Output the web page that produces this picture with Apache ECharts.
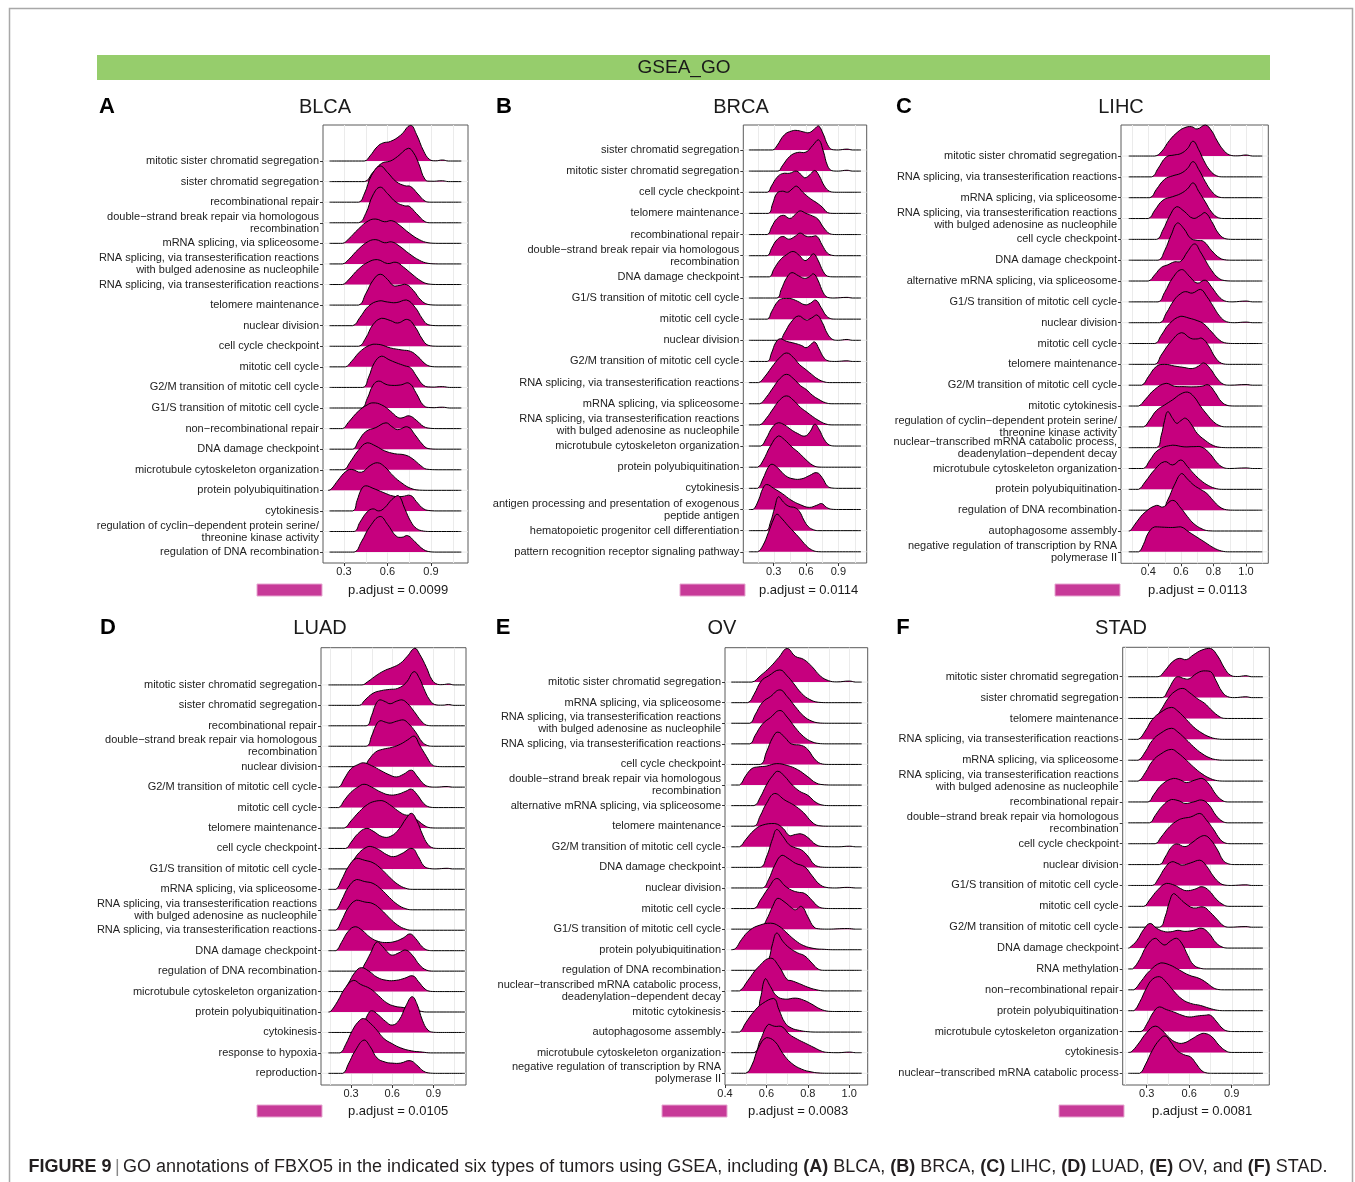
<!DOCTYPE html>
<html>
<head>
<meta charset="utf-8">
<script src="https://cdn.jsdelivr.net/npm/echarts@6/dist/echarts.min.js"></script>
<style>
  html, body { margin: 0; padding: 0; background: #fff; }
  #chart { width: 1355px; height: 1182px; }
</style>
</head>
<body>
<div id="chart"></div>
<script>
// ---- GSEA GO enrichment ridgelines for FBXO5 in six tumour types ----
// Each ridge is a list of [enrichment score, density height] knots; height is in row units.

const panelLetters = ['A', 'B', 'C', 'D', 'E', 'F'];
const cancerNames = ['BLCA', 'BRCA', 'LIHC', 'LUAD', 'OV', 'STAD'];
const pAdjustValues = [0.0099, 0.0114, 0.0113, 0.0105, 0.0083, 0.0081];

const ticksStep3 = [0.3, 0.6, 0.9];
const ticksStep2 = [0.4, 0.6, 0.8, 1.0];
const gridStep3 = [0.15, 0.3, 0.45, 0.6, 0.75, 0.9, 1.05];
const gridStep2 = [0.3, 0.4, 0.5, 0.6, 0.7, 0.8, 0.9, 1.0, 1.1];

const blcaTerms = [
  'mitotic sister chromatid segregation',
  'sister chromatid segregation',
  'recombinational repair',
  'double\u2212strand break repair via homologous\nrecombination',
  'mRNA splicing, via spliceosome',
  'RNA splicing, via transesterification reactions\nwith bulged adenosine as nucleophile',
  'RNA splicing, via transesterification reactions',
  'telomere maintenance',
  'nuclear division',
  'cell cycle checkpoint',
  'mitotic cell cycle',
  'G2/M transition of mitotic cell cycle',
  'G1/S transition of mitotic cell cycle',
  'non\u2212recombinational repair',
  'DNA damage checkpoint',
  'microtubule cytoskeleton organization',
  'protein polyubiquitination',
  'cytokinesis',
  'regulation of cyclin\u2212dependent protein serine/\nthreonine kinase activity',
  'regulation of DNA recombination'
];
const blcaDensity = [
  [[0.2,0],[0.44,0],[0.48,0.25],[0.53,0.7],[0.57,0.88],[0.62,0.95],[0.69,1.25],[0.76,1.73],[0.8,1.3],[0.85,0.48],[0.89,0.08],[0.93,0.01],[0.98,0.05],[1.02,0],[1.11,0]],
  [[0.2,0],[0.44,0],[0.5,0.45],[0.56,0.89],[0.62,1.0],[0.67,1.22],[0.745,1.62],[0.78,1.4],[0.815,0.89],[0.86,0.1],[0.9,0.02],[0.98,0.04],[1.02,0],[1.11,0]],
  [[0.2,0],[0.4,0],[0.44,0.4],[0.49,1.3],[0.55,1.76],[0.6,1.45],[0.66,1.0],[0.72,0.8],[0.76,0.76],[0.81,0.4],[0.86,0.05],[0.9,0],[1.11,0]],
  [[0.2,0],[0.4,0],[0.45,0.45],[0.5,1.35],[0.55,1.73],[0.6,1.42],[0.66,1.0],[0.72,0.82],[0.75,0.8],[0.8,0.45],[0.86,0.05],[0.9,0],[1.11,0]],
  [[0.2,0],[0.29,0],[0.33,0.2],[0.4,0.7],[0.47,1.1],[0.52,1.18],[0.58,1.05],[0.63,1.1],[0.68,0.9],[0.75,0.5],[0.82,0.18],[0.88,0.03],[0.95,0],[1.11,0]],
  [[0.2,0],[0.29,0],[0.33,0.2],[0.4,0.72],[0.47,1.1],[0.52,1.18],[0.58,1.03],[0.63,1.07],[0.68,0.88],[0.75,0.5],[0.82,0.18],[0.88,0.03],[0.95,0],[1.11,0]],
  [[0.2,0],[0.29,0],[0.33,0.22],[0.4,0.75],[0.47,1.1],[0.53,1.21],[0.6,1.02],[0.66,1.08],[0.71,0.85],[0.77,0.5],[0.83,0.18],[0.88,0.03],[0.95,0],[1.11,0]],
  [[0.2,0],[0.4,0],[0.45,0.55],[0.5,1.2],[0.55,1.5],[0.6,1.25],[0.64,0.95],[0.68,0.95],[0.73,1.0],[0.78,0.7],[0.83,0.25],[0.88,0.03],[0.95,0],[1.11,0]],
  [[0.2,0],[0.36,0],[0.41,0.4],[0.47,0.95],[0.54,1.2],[0.6,1.15],[0.66,1.12],[0.73,1.25],[0.79,0.9],[0.84,0.35],[0.88,0.05],[0.95,0],[1.11,0]],
  [[0.2,0],[0.4,0],[0.45,0.4],[0.5,1.05],[0.56,1.36],[0.62,1.25],[0.67,1.13],[0.74,1.3],[0.79,0.95],[0.84,0.35],[0.88,0.05],[0.95,0],[1.11,0]],
  [[0.2,0],[0.31,0],[0.35,0.25],[0.42,0.8],[0.5,1.1],[0.55,1.08],[0.62,0.92],[0.7,0.82],[0.76,0.75],[0.81,0.5],[0.86,0.15],[0.9,0.02],[0.95,0],[1.11,0]],
  [[0.2,0],[0.43,0],[0.47,0.5],[0.51,1.2],[0.56,1.52],[0.61,1.35],[0.66,1.2],[0.72,1.05],[0.76,0.95],[0.8,0.55],[0.85,0.1],[0.9,0.02],[0.98,0.04],[1.03,0],[1.11,0]],
  [[0.2,0],[0.42,0],[0.46,0.45],[0.5,1.1],[0.54,1.31],[0.59,1.15],[0.63,1.1],[0.69,1.12],[0.75,1.2],[0.8,0.7],[0.85,0.12],[0.9,0.02],[0.98,0.04],[1.03,0],[1.11,0]],
  [[0.2,0],[0.29,0],[0.33,0.3],[0.4,0.85],[0.46,1.15],[0.5,1.25],[0.56,1.15],[0.62,0.85],[0.67,0.55],[0.7,0.52],[0.75,0.62],[0.8,0.4],[0.85,0.1],[0.9,0.01],[0.95,0],[1.11,0]],
  [[0.2,0],[0.36,0],[0.4,0.4],[0.45,0.85],[0.52,1.05],[0.59,1.28],[0.63,1.1],[0.67,0.95],[0.74,1.08],[0.79,0.7],[0.84,0.25],[0.88,0.03],[0.95,0],[1.11,0]],
  [[0.2,0],[0.3,0],[0.34,0.35],[0.4,0.95],[0.46,1.31],[0.52,1.15],[0.58,0.92],[0.65,0.78],[0.72,0.72],[0.77,0.55],[0.83,0.2],[0.87,0.03],[0.95,0],[1.11,0]],
  [[0.19,0],[0.21,0.05],[0.26,0.5],[0.31,0.9],[0.35,1.02],[0.42,0.88],[0.48,1.2],[0.53,1.34],[0.58,1.15],[0.64,0.7],[0.7,0.35],[0.76,0.1],[0.82,0.01],[0.9,0],[1.11,0]],
  [[0.2,0],[0.36,0],[0.39,0.5],[0.42,1.05],[0.45,1.22],[0.5,1.1],[0.57,0.9],[0.64,0.72],[0.7,0.7],[0.76,0.75],[0.8,0.45],[0.85,0.1],[0.9,0.01],[0.95,0],[1.11,0]],
  [[0.2,0],[0.37,0],[0.41,0.45],[0.46,0.95],[0.5,1.1],[0.54,1.0],[0.58,1.15],[0.63,1.55],[0.675,1.75],[0.72,1.1],[0.76,0.5],[0.8,0.15],[0.85,0.02],[0.9,0],[1.11,0]],
  [[0.2,0],[0.37,0],[0.42,0.5],[0.48,1.25],[0.55,1.73],[0.6,1.35],[0.66,0.78],[0.7,0.72],[0.74,0.8],[0.79,0.5],[0.85,0.12],[0.9,0.01],[0.95,0],[1.11,0]]
];

const brcaTerms = [
  'sister chromatid segregation',
  'mitotic sister chromatid segregation',
  'cell cycle checkpoint',
  'telomere maintenance',
  'recombinational repair',
  'double\u2212strand break repair via homologous\nrecombination',
  'DNA damage checkpoint',
  'G1/S transition of mitotic cell cycle',
  'mitotic cell cycle',
  'nuclear division',
  'G2/M transition of mitotic cell cycle',
  'RNA splicing, via transesterification reactions',
  'mRNA splicing, via spliceosome',
  'RNA splicing, via transesterification reactions\nwith bulged adenosine as nucleophile',
  'microtubule cytoskeleton organization',
  'protein polyubiquitination',
  'cytokinesis',
  'antigen processing and presentation of exogenous\npeptide antigen',
  'hematopoietic progenitor cell differentiation',
  'pattern recognition receptor signaling pathway'
];
const brcaDensity = [
  [[0.07,0],[0.29,0],[0.33,0.2],[0.4,0.72],[0.47,0.9],[0.52,0.92],[0.58,0.85],[0.63,0.82],[0.68,1.0],[0.715,1.14],[0.76,0.75],[0.8,0.25],[0.84,0.02],[0.9,0],[0.98,0.04],[1.03,0],[1.11,0]],
  [[0.07,0],[0.34,0],[0.38,0.25],[0.45,0.7],[0.52,0.88],[0.6,0.9],[0.66,1.2],[0.715,1.48],[0.76,0.95],[0.8,0.25],[0.84,0.02],[0.9,0],[0.98,0.04],[1.03,0],[1.11,0]],
  [[0.07,0],[0.24,0],[0.28,0.3],[0.33,0.7],[0.38,0.88],[0.45,0.9],[0.51,1.0],[0.56,0.8],[0.59,0.68],[0.64,0.85],[0.68,1.03],[0.72,0.8],[0.77,0.3],[0.82,0.04],[0.88,0],[1.11,0]],
  [[0.07,0],[0.25,0],[0.29,0.45],[0.33,0.95],[0.38,1.05],[0.43,1.0],[0.47,1.15],[0.51,1.29],[0.57,1.0],[0.64,0.7],[0.7,0.5],[0.75,0.3],[0.8,0.04],[0.86,0],[1.11,0]],
  [[0.07,0],[0.24,0],[0.28,0.35],[0.33,0.75],[0.39,0.91],[0.45,0.76],[0.5,0.95],[0.545,1.12],[0.6,1.0],[0.66,0.88],[0.71,0.73],[0.76,0.35],[0.82,0.04],[0.88,0],[1.11,0]],
  [[0.07,0],[0.24,0],[0.28,0.35],[0.33,0.75],[0.385,0.91],[0.44,0.78],[0.5,0.92],[0.545,1.07],[0.6,0.92],[0.65,0.9],[0.7,0.92],[0.75,0.5],[0.8,0.12],[0.85,0.01],[0.9,0],[1.11,0]],
  [[0.07,0],[0.26,0],[0.3,0.35],[0.36,0.8],[0.42,1.05],[0.48,1.2],[0.54,1.0],[0.59,0.77],[0.63,0.9],[0.67,1.09],[0.71,0.8],[0.76,0.25],[0.8,0.03],[0.86,0],[1.11,0]],
  [[0.07,0],[0.33,0],[0.37,0.4],[0.42,0.95],[0.47,1.2],[0.53,1.05],[0.585,0.93],[0.63,1.0],[0.67,1.14],[0.71,0.85],[0.76,0.25],[0.8,0.03],[0.86,0],[0.98,0.03],[1.03,0],[1.11,0]],
  [[0.07,0],[0.24,0],[0.28,0.35],[0.34,0.85],[0.39,0.98],[0.45,0.98],[0.52,0.85],[0.59,0.68],[0.64,0.75],[0.69,0.9],[0.74,0.55],[0.79,0.15],[0.84,0.01],[0.9,0],[1.11,0]],
  [[0.07,0],[0.35,0],[0.4,0.35],[0.46,0.85],[0.53,1.15],[0.6,0.96],[0.65,1.05],[0.7,1.2],[0.75,0.85],[0.8,0.3],[0.85,0.03],[0.9,0],[0.98,0.04],[1.03,0],[1.11,0]],
  [[0.07,0],[0.24,0],[0.28,0.4],[0.32,0.9],[0.36,1.07],[0.42,0.95],[0.5,0.85],[0.56,0.75],[0.6,0.65],[0.64,0.78],[0.68,0.92],[0.72,0.6],[0.77,0.15],[0.82,0.01],[0.88,0],[0.98,0.03],[1.03,0],[1.11,0]],
  [[0.07,0],[0.16,0],[0.22,0.3],[0.3,0.85],[0.36,1.2],[0.42,1.4],[0.48,1.2],[0.54,0.85],[0.59,0.65],[0.65,0.4],[0.7,0.2],[0.76,0.05],[0.82,0],[1.11,0]],
  [[0.07,0],[0.17,0],[0.23,0.3],[0.3,0.8],[0.36,1.2],[0.42,1.39],[0.48,1.2],[0.55,0.85],[0.6,0.68],[0.66,0.4],[0.72,0.2],[0.78,0.05],[0.84,0],[1.11,0]],
  [[0.07,0],[0.17,0],[0.23,0.3],[0.3,0.8],[0.36,1.2],[0.42,1.37],[0.48,1.18],[0.55,0.82],[0.6,0.63],[0.66,0.4],[0.72,0.2],[0.78,0.05],[0.84,0],[1.11,0]],
  [[0.07,0],[0.18,0],[0.23,0.35],[0.29,0.9],[0.345,1.1],[0.4,1.0],[0.46,0.78],[0.52,0.6],[0.59,0.47],[0.64,0.7],[0.68,1.03],[0.72,0.8],[0.77,0.3],[0.82,0.04],[0.88,0],[1.11,0]],
  [[0.07,0],[0.15,0],[0.2,0.3],[0.27,1.0],[0.345,1.48],[0.4,1.3],[0.47,0.95],[0.53,0.7],[0.6,0.35],[0.66,0.1],[0.71,0.01],[0.78,0],[1.11,0]],
  [[0.07,0],[0.15,0],[0.2,0.45],[0.25,1.0],[0.285,1.14],[0.34,0.95],[0.41,0.6],[0.48,0.45],[0.56,0.45],[0.63,0.6],[0.7,0.74],[0.75,0.5],[0.8,0.1],[0.85,0.01],[0.9,0],[1.11,0]],
  [[0.07,0],[0.11,0],[0.16,0.45],[0.2,1.0],[0.235,1.18],[0.3,1.0],[0.38,0.75],[0.46,0.45],[0.55,0.22],[0.63,0.1],[0.7,0.2],[0.745,0.28],[0.79,0.1],[0.84,0.01],[0.9,0],[1.11,0]],
  [[0.07,0],[0.23,0],[0.27,0.4],[0.31,1.1],[0.345,1.61],[0.39,1.35],[0.44,1.15],[0.5,1.08],[0.54,0.9],[0.58,0.5],[0.62,0.2],[0.67,0.04],[0.72,0],[1.11,0]],
  [[0.07,0],[0.15,0],[0.2,0.3],[0.25,0.9],[0.3,1.55],[0.33,1.78],[0.37,1.6],[0.43,1.25],[0.48,0.98],[0.54,0.65],[0.6,0.3],[0.65,0.1],[0.7,0.01],[0.76,0],[1.11,0]]
];

const lihcTerms = [
  'mitotic sister chromatid segregation',
  'RNA splicing, via transesterification reactions',
  'mRNA splicing, via spliceosome',
  'RNA splicing, via transesterification reactions\nwith bulged adenosine as nucleophile',
  'cell cycle checkpoint',
  'DNA damage checkpoint',
  'alternative mRNA splicing, via spliceosome',
  'G1/S transition of mitotic cell cycle',
  'nuclear division',
  'mitotic cell cycle',
  'telomere maintenance',
  'G2/M transition of mitotic cell cycle',
  'mitotic cytokinesis',
  'regulation of cyclin\u2212dependent protein serine/\nthreonine kinase activity',
  'nuclear\u2212transcribed mRNA catabolic process,\ndeadenylation\u2212dependent decay',
  'microtubule cytoskeleton organization',
  'protein polyubiquitination',
  'regulation of DNA recombination',
  'autophagosome assembly',
  'negative regulation of transcription by RNA\npolymerase II'
];
const lihcDensity = [
  [[0.28,0],[0.44,0],[0.48,0.2],[0.53,0.75],[0.58,1.15],[0.62,1.35],[0.665,1.41],[0.7,1.3],[0.75,1.49],[0.79,1.2],[0.82,0.77],[0.86,0.3],[0.9,0.05],[0.95,0.01],[1.0,0.05],[1.04,0],[1.1,0]],
  [[0.28,0],[0.42,0],[0.46,0.4],[0.51,0.95],[0.56,1.05],[0.6,1.12],[0.64,1.35],[0.675,1.71],[0.71,1.3],[0.74,0.8],[0.78,0.3],[0.82,0.05],[0.86,0],[1.1,0]],
  [[0.28,0],[0.41,0],[0.45,0.4],[0.5,0.88],[0.55,1.05],[0.6,1.17],[0.64,1.4],[0.675,1.73],[0.71,1.35],[0.75,0.77],[0.79,0.3],[0.83,0.04],[0.87,0],[1.1,0]],
  [[0.28,0],[0.4,0],[0.44,0.4],[0.49,0.88],[0.55,1.05],[0.6,1.2],[0.64,1.42],[0.675,1.71],[0.71,1.3],[0.75,0.8],[0.79,0.3],[0.83,0.04],[0.87,0],[1.1,0]],
  [[0.28,0],[0.45,0],[0.49,0.45],[0.53,1.1],[0.575,1.57],[0.62,1.35],[0.675,1.01],[0.72,1.15],[0.75,1.28],[0.79,0.85],[0.83,0.3],[0.87,0.04],[0.92,0],[1.1,0]],
  [[0.28,0],[0.46,0],[0.5,0.45],[0.54,1.2],[0.58,1.79],[0.62,1.5],[0.66,1.05],[0.7,0.95],[0.74,0.9],[0.79,0.45],[0.84,0.1],[0.88,0.01],[0.92,0],[1.1,0]],
  [[0.28,0],[0.4,0],[0.44,0.3],[0.48,0.65],[0.52,0.78],[0.56,0.92],[0.6,0.95],[0.64,1.4],[0.685,1.78],[0.72,1.4],[0.75,1.0],[0.79,0.5],[0.83,0.15],[0.87,0.02],[0.92,0],[1.1,0]],
  [[0.28,0],[0.46,0],[0.5,0.45],[0.55,1.15],[0.605,1.55],[0.65,1.25],[0.7,0.9],[0.75,1.04],[0.79,0.7],[0.84,0.2],[0.88,0.02],[0.92,0],[1.0,0.04],[1.04,0],[1.1,0]],
  [[0.28,0],[0.47,0],[0.51,0.45],[0.56,1.1],[0.6,1.4],[0.63,1.49],[0.67,1.42],[0.72,1.6],[0.76,1.25],[0.8,0.77],[0.84,0.3],[0.88,0.05],[0.93,0],[1.0,0.03],[1.04,0],[1.1,0]],
  [[0.28,0],[0.44,0],[0.48,0.4],[0.53,0.95],[0.6,1.31],[0.65,1.22],[0.7,1.1],[0.74,0.95],[0.79,0.55],[0.84,0.15],[0.88,0.02],[0.93,0],[1.1,0]],
  [[0.28,0],[0.44,0],[0.48,0.45],[0.54,1.1],[0.605,1.52],[0.66,1.25],[0.7,1.22],[0.73,1.25],[0.77,0.9],[0.81,0.35],[0.85,0.05],[0.9,0],[1.1,0]],
  [[0.28,0],[0.36,0],[0.4,0.4],[0.45,0.9],[0.5,1.0],[0.56,0.92],[0.62,0.85],[0.67,0.8],[0.71,0.92],[0.74,1.07],[0.78,0.8],[0.82,0.35],[0.86,0.05],[0.9,0],[1.0,0.03],[1.04,0],[1.1,0]],
  [[0.28,0],[0.34,0],[0.38,0.3],[0.44,0.8],[0.51,1.09],[0.56,0.95],[0.62,0.93],[0.68,0.92],[0.73,0.95],[0.77,1.01],[0.81,0.65],[0.85,0.2],[0.89,0.02],[0.93,0],[1.1,0]],
  [[0.28,0],[0.37,0],[0.41,0.35],[0.45,0.78],[0.5,1.05],[0.55,1.3],[0.6,1.58],[0.64,1.67],[0.68,1.45],[0.72,1.0],[0.76,0.6],[0.8,0.25],[0.84,0.05],[0.88,0],[1.1,0]],
  [[0.28,0],[0.45,0],[0.48,0.6],[0.5,1.3],[0.52,1.73],[0.55,1.4],[0.575,1.17],[0.6,1.3],[0.63,1.41],[0.67,1.05],[0.7,0.69],[0.75,0.35],[0.8,0.1],[0.85,0.01],[0.9,0],[1.1,0]],
  [[0.28,0],[0.37,0],[0.41,0.4],[0.46,0.88],[0.55,1.12],[0.62,1.04],[0.68,1.05],[0.73,1.02],[0.78,0.7],[0.82,0.3],[0.86,0.05],[0.9,0],[1.0,0.03],[1.04,0],[1.1,0]],
  [[0.28,0],[0.34,0],[0.38,0.35],[0.44,0.95],[0.5,1.33],[0.55,1.17],[0.6,1.41],[0.64,1.1],[0.68,0.75],[0.72,0.45],[0.77,0.18],[0.82,0.03],[0.86,0],[1.1,0]],
  [[0.28,0],[0.48,0],[0.52,0.5],[0.56,1.2],[0.605,1.76],[0.64,1.5],[0.68,1.2],[0.72,1.0],[0.76,0.8],[0.8,0.45],[0.84,0.15],[0.88,0.02],[0.93,0],[1.1,0]],
  [[0.28,0],[0.29,0.02],[0.33,0.45],[0.38,0.9],[0.45,1.23],[0.49,1.15],[0.55,1.47],[0.6,1.1],[0.64,0.7],[0.68,0.35],[0.73,0.1],[0.77,0.01],[0.82,0],[1.1,0]],
  [[0.28,0],[0.34,0],[0.37,0.35],[0.4,0.9],[0.44,1.2],[0.5,1.18],[0.55,1.17],[0.6,1.2],[0.65,0.95],[0.7,0.7],[0.75,0.45],[0.8,0.2],[0.85,0.04],[0.9,0],[1.1,0]]
];

const luadTerms = [
  'mitotic sister chromatid segregation',
  'sister chromatid segregation',
  'recombinational repair',
  'double\u2212strand break repair via homologous\nrecombination',
  'nuclear division',
  'G2/M transition of mitotic cell cycle',
  'mitotic cell cycle',
  'telomere maintenance',
  'cell cycle checkpoint',
  'G1/S transition of mitotic cell cycle',
  'mRNA splicing, via spliceosome',
  'RNA splicing, via transesterification reactions\nwith bulged adenosine as nucleophile',
  'RNA splicing, via transesterification reactions',
  'DNA damage checkpoint',
  'regulation of DNA recombination',
  'microtubule cytoskeleton organization',
  'protein polyubiquitination',
  'cytokinesis',
  'response to hypoxia',
  'reproduction'
];
const luadDensity = [
  [[0.135,0],[0.38,0],[0.42,0.15],[0.49,0.49],[0.55,0.72],[0.6,0.85],[0.66,1.06],[0.71,1.4],[0.765,1.79],[0.8,1.5],[0.85,0.85],[0.89,0.25],[0.93,0.03],[0.98,0.02],[1.01,0.05],[1.05,0],[1.13,0]],
  [[0.135,0],[0.36,0],[0.4,0.25],[0.46,0.59],[0.52,0.72],[0.58,0.78],[0.64,0.83],[0.7,1.1],[0.76,1.65],[0.8,1.3],[0.83,0.83],[0.87,0.3],[0.91,0.04],[0.97,0.01],[1.01,0.04],[1.05,0],[1.13,0]],
  [[0.135,0],[0.41,0],[0.45,0.5],[0.48,1.05],[0.51,1.27],[0.55,1.18],[0.585,1.08],[0.63,1.2],[0.67,1.27],[0.71,1.1],[0.76,0.7],[0.81,0.25],[0.85,0.03],[0.9,0],[1.13,0]],
  [[0.135,0],[0.41,0],[0.45,0.5],[0.48,1.0],[0.51,1.24],[0.55,1.18],[0.585,1.13],[0.63,1.22],[0.68,1.29],[0.72,1.1],[0.77,0.7],[0.82,0.2],[0.86,0.03],[0.9,0],[1.13,0]],
  [[0.135,0],[0.39,0],[0.43,0.35],[0.48,0.72],[0.53,0.85],[0.6,0.95],[0.66,1.1],[0.71,1.3],[0.76,1.5],[0.8,1.05],[0.85,0.5],[0.89,0.1],[0.93,0.01],[0.98,0],[1.13,0]],
  [[0.135,0],[0.21,0],[0.25,0.4],[0.3,0.9],[0.35,1.1],[0.39,1.19],[0.45,1.05],[0.52,0.8],[0.58,0.6],[0.63,0.5],[0.68,0.62],[0.74,0.83],[0.78,0.55],[0.83,0.15],[0.87,0.02],[0.92,0],[1.0,0.03],[1.04,0],[1.13,0]],
  [[0.135,0],[0.21,0],[0.25,0.35],[0.3,0.75],[0.35,1.0],[0.395,1.14],[0.45,1.0],[0.52,0.75],[0.58,0.62],[0.64,0.65],[0.7,0.8],[0.74,0.9],[0.78,0.65],[0.83,0.2],[0.87,0.03],[0.92,0],[1.13,0]],
  [[0.135,0],[0.25,0],[0.3,0.35],[0.36,0.8],[0.42,1.15],[0.47,1.3],[0.525,1.34],[0.58,1.15],[0.64,0.85],[0.69,0.65],[0.74,0.6],[0.79,0.35],[0.84,0.1],[0.88,0.01],[0.93,0],[1.13,0]],
  [[0.135,0],[0.26,0],[0.3,0.3],[0.35,0.72],[0.41,0.98],[0.46,0.85],[0.53,0.57],[0.59,0.6],[0.65,0.95],[0.7,1.45],[0.74,1.72],[0.78,1.35],[0.82,0.7],[0.86,0.2],[0.9,0.02],[0.95,0],[1.13,0]],
  [[0.135,0],[0.27,0],[0.31,0.35],[0.36,0.8],[0.41,1.05],[0.44,1.1],[0.5,0.95],[0.56,0.7],[0.61,0.6],[0.67,0.75],[0.745,1.0],[0.79,0.6],[0.83,0.15],[0.87,0.02],[0.92,0],[1.0,0.03],[1.04,0],[1.13,0]],
  [[0.135,0],[0.19,0],[0.23,0.45],[0.28,1.1],[0.34,1.52],[0.4,1.42],[0.46,1.3],[0.52,1.0],[0.58,0.6],[0.64,0.25],[0.7,0.05],[0.75,0],[1.13,0]],
  [[0.135,0],[0.19,0],[0.23,0.45],[0.28,1.1],[0.34,1.48],[0.4,1.38],[0.46,1.29],[0.52,1.0],[0.58,0.6],[0.64,0.25],[0.7,0.05],[0.75,0],[1.13,0]],
  [[0.135,0],[0.19,0],[0.23,0.45],[0.28,1.1],[0.34,1.47],[0.4,1.38],[0.46,1.3],[0.52,1.0],[0.58,0.6],[0.64,0.25],[0.7,0.05],[0.75,0],[1.13,0]],
  [[0.135,0],[0.19,0],[0.23,0.4],[0.28,0.95],[0.33,1.17],[0.38,1.0],[0.44,0.65],[0.5,0.45],[0.56,0.4],[0.62,0.45],[0.68,0.62],[0.73,0.82],[0.77,0.6],[0.82,0.18],[0.86,0.02],[0.9,0],[1.13,0]],
  [[0.135,0],[0.36,0],[0.4,0.35],[0.44,0.85],[0.49,1.44],[0.53,1.2],[0.57,0.9],[0.6,0.78],[0.65,0.9],[0.7,1.03],[0.75,0.75],[0.8,0.3],[0.85,0.05],[0.9,0],[1.13,0]],
  [[0.135,0],[0.24,0],[0.28,0.4],[0.33,0.95],[0.375,1.17],[0.43,1.0],[0.49,0.7],[0.56,0.55],[0.63,0.55],[0.69,0.65],[0.75,0.77],[0.79,0.5],[0.84,0.12],[0.88,0.01],[0.93,0],[1.13,0]],
  [[0.135,0],[0.15,0.02],[0.2,0.5],[0.26,1.2],[0.32,1.55],[0.37,1.35],[0.44,1.14],[0.5,0.8],[0.56,0.45],[0.62,0.28],[0.68,0.22],[0.74,0.15],[0.8,0.05],[0.85,0],[1.13,0]],
  [[0.135,0],[0.36,0],[0.39,0.35],[0.42,0.85],[0.45,1.06],[0.5,0.85],[0.55,0.55],[0.6,0.36],[0.65,0.6],[0.7,1.3],[0.745,1.75],[0.78,1.4],[0.82,0.6],[0.86,0.12],[0.9,0.01],[0.95,0],[1.13,0]],
  [[0.135,0],[0.22,0],[0.26,0.4],[0.31,1.1],[0.35,1.5],[0.39,1.68],[0.44,1.45],[0.49,1.1],[0.54,0.7],[0.6,0.45],[0.66,0.25],[0.74,0.1],[0.82,0.04],[0.88,0],[1.13,0]],
  [[0.135,0],[0.24,0],[0.28,0.45],[0.33,1.1],[0.395,1.63],[0.44,1.3],[0.49,0.75],[0.55,0.55],[0.6,0.5],[0.66,0.5],[0.73,0.62],[0.78,0.4],[0.83,0.1],[0.88,0.01],[0.93,0],[1.13,0]]
];

const ovTerms = [
  'mitotic sister chromatid segregation',
  'mRNA splicing, via spliceosome',
  'RNA splicing, via transesterification reactions\nwith bulged adenosine as nucleophile',
  'RNA splicing, via transesterification reactions',
  'cell cycle checkpoint',
  'double\u2212strand break repair via homologous\nrecombination',
  'alternative mRNA splicing, via spliceosome',
  'telomere maintenance',
  'G2/M transition of mitotic cell cycle',
  'DNA damage checkpoint',
  'nuclear division',
  'mitotic cell cycle',
  'G1/S transition of mitotic cell cycle',
  'protein polyubiquitination',
  'regulation of DNA recombination',
  'nuclear\u2212transcribed mRNA catabolic process,\ndeadenylation\u2212dependent decay',
  'mitotic cytokinesis',
  'autophagosome assembly',
  'microtubule cytoskeleton organization',
  'negative regulation of transcription by RNA\npolymerase II'
];
const ovDensity = [
  [[0.43,0],[0.53,0],[0.57,0.3],[0.62,0.75],[0.66,1.2],[0.7,1.63],[0.74,1.25],[0.78,1.1],[0.82,0.75],[0.86,0.3],[0.9,0.07],[0.94,0.01],[1.0,0.05],[1.03,0],[1.06,0]],
  [[0.43,0],[0.51,0],[0.54,0.4],[0.575,1.05],[0.61,1.3],[0.665,1.59],[0.7,1.3],[0.73,0.95],[0.77,0.45],[0.81,0.15],[0.85,0.02],[0.9,0],[1.06,0]],
  [[0.43,0],[0.52,0],[0.545,0.4],[0.58,1.0],[0.62,1.3],[0.665,1.62],[0.7,1.3],[0.74,0.8],[0.78,0.35],[0.82,0.1],[0.86,0.01],[0.9,0],[1.06,0]],
  [[0.43,0],[0.52,0],[0.545,0.4],[0.58,0.95],[0.62,1.28],[0.665,1.62],[0.7,1.3],[0.74,0.78],[0.78,0.35],[0.82,0.1],[0.86,0.01],[0.9,0],[1.06,0]],
  [[0.43,0],[0.57,0],[0.6,0.6],[0.63,1.3],[0.655,1.57],[0.69,1.3],[0.72,1.0],[0.77,0.92],[0.8,0.72],[0.83,0.3],[0.86,0.05],[0.9,0],[1.06,0]],
  [[0.43,0],[0.47,0],[0.5,0.45],[0.53,0.8],[0.56,0.88],[0.6,0.92],[0.65,1.04],[0.7,0.95],[0.75,0.75],[0.8,0.4],[0.84,0.1],[0.88,0.01],[0.92,0],[1.06,0]],
  [[0.43,0],[0.54,0],[0.57,0.4],[0.6,1.0],[0.63,1.45],[0.655,1.67],[0.69,1.4],[0.72,1.05],[0.76,0.7],[0.8,0.5],[0.84,0.15],[0.88,0.01],[0.92,0],[1.06,0]],
  [[0.43,0],[0.54,0],[0.57,0.5],[0.6,1.1],[0.64,1.59],[0.69,1.26],[0.72,1.1],[0.745,0.94],[0.78,0.65],[0.82,0.2],[0.85,0.03],[0.9,0],[1.06,0]],
  [[0.43,0],[0.47,0],[0.5,0.35],[0.54,0.8],[0.58,1.05],[0.64,1.13],[0.68,0.9],[0.71,0.55],[0.74,0.6],[0.77,0.62],[0.8,0.45],[0.84,0.1],[0.88,0.01],[0.95,0],[1.0,0.03],[1.03,0],[1.06,0]],
  [[0.43,0],[0.57,0],[0.6,0.5],[0.63,1.4],[0.65,1.84],[0.68,1.5],[0.71,1.1],[0.74,0.95],[0.77,0.84],[0.8,0.55],[0.83,0.15],[0.86,0.02],[0.9,0],[1.06,0]],
  [[0.43,0],[0.58,0],[0.61,0.4],[0.64,1.1],[0.675,1.59],[0.71,1.4],[0.74,1.2],[0.785,1.02],[0.82,0.6],[0.86,0.15],[0.9,0.01],[0.94,0],[0.99,0.03],[1.03,0],[1.06,0]],
  [[0.43,0],[0.54,0],[0.57,0.4],[0.61,1.0],[0.65,1.46],[0.69,1.1],[0.72,0.9],[0.75,0.8],[0.785,0.73],[0.82,0.4],[0.85,0.1],[0.88,0.01],[0.92,0],[1.06,0]],
  [[0.43,0],[0.57,0],[0.6,0.45],[0.63,1.1],[0.655,1.5],[0.69,1.3],[0.72,1.05],[0.74,0.94],[0.77,1.1],[0.8,0.6],[0.83,0.1],[0.86,0.01],[0.9,0],[0.99,0.03],[1.03,0],[1.06,0]],
  [[0.43,0],[0.45,0.05],[0.48,0.5],[0.52,0.95],[0.57,1.2],[0.62,1.29],[0.66,1.15],[0.7,0.8],[0.74,0.45],[0.78,0.2],[0.83,0.06],[0.88,0.02],[0.92,0],[1.06,0]],
  [[0.43,0],[0.58,0],[0.61,0.5],[0.63,1.3],[0.65,1.81],[0.68,1.4],[0.71,1.1],[0.75,0.85],[0.785,0.7],[0.82,0.35],[0.85,0.06],[0.88,0],[1.06,0]],
  [[0.43,0],[0.47,0],[0.51,0.5],[0.56,1.15],[0.62,1.59],[0.66,1.2],[0.7,0.55],[0.72,0.5],[0.76,0.35],[0.8,0.18],[0.84,0.06],[0.88,0],[1.06,0]],
  [[0.43,0],[0.55,0],[0.57,0.6],[0.595,1.6],[0.62,1.2],[0.65,0.75],[0.69,0.6],[0.74,0.65],[0.78,0.55],[0.82,0.35],[0.86,0.12],[0.9,0.01],[0.94,0],[1.06,0]],
  [[0.43,0],[0.47,0],[0.5,0.45],[0.54,1.0],[0.58,1.38],[0.635,1.63],[0.66,1.1],[0.69,0.45],[0.72,0.2],[0.76,0.08],[0.8,0.02],[0.85,0],[1.06,0]],
  [[0.43,0],[0.54,0],[0.57,0.6],[0.61,1.38],[0.64,1.28],[0.675,1.26],[0.71,0.9],[0.75,0.65],[0.79,0.45],[0.83,0.25],[0.87,0.06],[0.9,0.01],[0.95,0],[1.0,0.03],[1.03,0],[1.06,0]],
  [[0.43,0],[0.5,0],[0.53,0.4],[0.56,1.2],[0.6,1.73],[0.64,1.55],[0.68,0.95],[0.72,0.5],[0.77,0.2],[0.82,0.06],[0.86,0.01],[0.9,0],[1.06,0]]
];

const stadTerms = [
  'mitotic sister chromatid segregation',
  'sister chromatid segregation',
  'telomere maintenance',
  'RNA splicing, via transesterification reactions',
  'mRNA splicing, via spliceosome',
  'RNA splicing, via transesterification reactions\nwith bulged adenosine as nucleophile',
  'recombinational repair',
  'double\u2212strand break repair via homologous\nrecombination',
  'cell cycle checkpoint',
  'nuclear division',
  'G1/S transition of mitotic cell cycle',
  'mitotic cell cycle',
  'G2/M transition of mitotic cell cycle',
  'DNA damage checkpoint',
  'RNA methylation',
  'non\u2212recombinational repair',
  'protein polyubiquitination',
  'microtubule cytoskeleton organization',
  'cytokinesis',
  'nuclear\u2212transcribed mRNA catabolic process'
];
const stadDensity = [
  [[0.17,0],[0.38,0],[0.43,0.3],[0.48,0.7],[0.53,0.88],[0.58,0.82],[0.63,1.05],[0.69,1.28],[0.75,1.36],[0.8,1.0],[0.85,0.4],[0.89,0.08],[0.94,0.01],[1.0,0.05],[1.04,0],[1.12,0]],
  [[0.17,0],[0.41,0],[0.45,0.35],[0.5,0.93],[0.525,1.0],[0.56,0.92],[0.6,0.9],[0.65,1.15],[0.7,1.28],[0.75,1.25],[0.79,0.8],[0.83,0.3],[0.87,0.05],[0.92,0],[1.0,0.04],[1.04,0],[1.12,0]],
  [[0.17,0],[0.35,0],[0.4,0.4],[0.45,0.95],[0.5,1.3],[0.555,1.44],[0.6,1.25],[0.655,0.96],[0.71,0.72],[0.75,0.45],[0.8,0.15],[0.84,0.01],[0.88,0],[1.12,0]],
  [[0.17,0],[0.24,0],[0.29,0.4],[0.34,0.95],[0.4,1.3],[0.475,1.53],[0.52,1.35],[0.58,0.95],[0.63,0.6],[0.69,0.3],[0.75,0.1],[0.8,0.02],[0.85,0],[1.12,0]],
  [[0.17,0],[0.24,0],[0.29,0.4],[0.34,0.95],[0.4,1.3],[0.475,1.53],[0.52,1.35],[0.58,0.98],[0.63,0.65],[0.69,0.32],[0.75,0.1],[0.8,0.02],[0.85,0],[1.12,0]],
  [[0.17,0],[0.24,0],[0.29,0.4],[0.34,0.95],[0.4,1.3],[0.475,1.52],[0.52,1.35],[0.58,1.0],[0.63,0.68],[0.69,0.35],[0.75,0.12],[0.8,0.02],[0.85,0],[1.12,0]],
  [[0.17,0],[0.31,0],[0.35,0.35],[0.41,0.85],[0.49,1.13],[0.54,1.05],[0.58,0.93],[0.64,1.05],[0.69,1.13],[0.74,0.85],[0.79,0.35],[0.84,0.05],[0.88,0],[1.12,0]],
  [[0.17,0],[0.32,0],[0.36,0.35],[0.41,0.8],[0.475,1.12],[0.53,1.05],[0.57,0.93],[0.63,1.0],[0.69,1.09],[0.74,0.85],[0.79,0.35],[0.84,0.05],[0.88,0],[1.12,0]],
  [[0.17,0],[0.36,0],[0.4,0.3],[0.46,0.8],[0.52,1.12],[0.56,1.22],[0.61,1.28],[0.675,1.45],[0.72,1.15],[0.77,0.7],[0.82,0.2],[0.86,0.02],[0.9,0],[1.12,0]],
  [[0.17,0],[0.39,0],[0.43,0.35],[0.47,0.8],[0.51,0.99],[0.57,0.86],[0.62,1.05],[0.67,1.3],[0.71,1.39],[0.75,1.2],[0.8,0.7],[0.84,0.2],[0.88,0.03],[0.92,0],[1.12,0]],
  [[0.17,0],[0.34,0],[0.38,0.3],[0.43,0.85],[0.475,1.13],[0.52,1.05],[0.55,0.97],[0.61,1.08],[0.675,1.21],[0.72,0.95],[0.77,0.45],[0.82,0.1],[0.86,0.01],[0.9,0],[1.0,0.03],[1.04,0],[1.12,0]],
  [[0.17,0],[0.28,0],[0.32,0.3],[0.38,0.8],[0.44,1.1],[0.5,1.0],[0.54,0.85],[0.58,0.75],[0.64,0.82],[0.69,0.94],[0.74,0.75],[0.79,0.35],[0.84,0.08],[0.88,0],[1.12,0]],
  [[0.17,0],[0.39,0],[0.43,0.5],[0.46,1.2],[0.49,1.61],[0.53,1.4],[0.57,1.15],[0.63,0.92],[0.7,0.97],[0.75,0.7],[0.8,0.35],[0.84,0.08],[0.88,0],[1.0,0.03],[1.04,0],[1.12,0]],
  [[0.17,0],[0.18,0.02],[0.23,0.35],[0.28,0.9],[0.325,1.18],[0.37,0.95],[0.42,0.8],[0.47,0.78],[0.52,0.85],[0.57,0.8],[0.63,0.85],[0.69,0.95],[0.74,0.7],[0.79,0.25],[0.84,0.03],[0.88,0],[1.12,0]],
  [[0.17,0],[0.2,0],[0.25,0.45],[0.3,1.1],[0.36,1.47],[0.4,1.25],[0.43,1.15],[0.47,1.35],[0.51,1.47],[0.55,1.2],[0.59,0.65],[0.63,0.2],[0.68,0.03],[0.72,0],[1.12,0]],
  [[0.17,0],[0.21,0],[0.26,0.4],[0.32,0.9],[0.4,1.29],[0.46,1.2],[0.53,0.95],[0.6,0.7],[0.67,0.55],[0.72,0.35],[0.77,0.1],[0.81,0.01],[0.85,0],[1.12,0]],
  [[0.17,0],[0.21,0],[0.25,0.4],[0.3,1.1],[0.34,1.5],[0.39,1.63],[0.44,1.35],[0.49,0.95],[0.55,0.55],[0.61,0.35],[0.68,0.25],[0.74,0.12],[0.8,0.02],[0.85,0],[1.12,0]],
  [[0.17,0],[0.26,0],[0.3,0.35],[0.35,0.95],[0.39,1.18],[0.44,1.05],[0.49,0.94],[0.55,0.78],[0.6,0.7],[0.66,0.75],[0.71,0.78],[0.75,0.78],[0.79,0.5],[0.84,0.12],[0.88,0.01],[0.92,0],[1.12,0]],
  [[0.17,0],[0.19,0.02],[0.24,0.4],[0.3,0.95],[0.36,1.26],[0.41,1.05],[0.46,0.7],[0.51,0.48],[0.56,0.45],[0.62,0.65],[0.67,0.85],[0.71,0.91],[0.76,0.75],[0.81,0.35],[0.86,0.07],[0.9,0],[1.12,0]],
  [[0.17,0],[0.25,0],[0.29,0.4],[0.34,1.1],[0.39,1.6],[0.43,1.79],[0.47,1.5],[0.51,1.12],[0.56,0.9],[0.61,0.78],[0.65,0.45],[0.69,0.12],[0.73,0.01],[0.77,0],[1.12,0]]
];

const panelTerms = [blcaTerms, brcaTerms, lihcTerms, luadTerms, ovTerms, stadTerms];
const panelDensity = [blcaDensity, brcaDensity, lihcDensity, luadDensity, ovDensity, stadDensity];
const panelTicks = [ticksStep3, ticksStep3, ticksStep2, ticksStep3, ticksStep2, ticksStep3];
const panelGridX = [gridStep3, gridStep3, gridStep2, gridStep3, gridStep2, gridStep3];

// ---- layout of the six panels (pixel boxes and axis extents) ----
const layout = [
  { left: 323,    top: 125,   width: 145,   height: 438,   xMin: 0.155, xMax: 1.156, yMin: -0.53, yMax: 20.75, letterX: 107, titleX: 325, rowY: 107, legX: 257, txtX: 348, legY: 590 },
  { left: 743.3,  top: 125,   width: 123.4, height: 438,   xMin: 0.018, xMax: 1.163, yMin: -0.53, yMax: 20.18, letterX: 504, titleX: 741, rowY: 107, legX: 680, txtX: 759, legY: 590 },
  { left: 1121,   top: 125,   width: 147.3, height: 438.3, xMin: 0.2325, xMax: 1.137, yMin: -0.55, yMax: 20.49, letterX: 904, titleX: 1121, rowY: 107, legX: 1055, txtX: 1148, legY: 590 },
  { left: 321,    top: 647.7, width: 145,   height: 437.3, xMin: 0.081, xMax: 1.138, yMin: -0.57, yMax: 20.82, letterX: 108, titleX: 320, rowY: 628, legX: 257, txtX: 348, legY: 1111 },
  { left: 725,    top: 647.7, width: 142.7, height: 437.3, xMin: 0.4,   xMax: 1.089, yMin: -0.57, yMax: 20.67, letterX: 503, titleX: 722, rowY: 628, legX: 662, txtX: 748, legY: 1111 },
  { left: 1122.7, top: 647.3, width: 146.6, height: 437.7, xMin: 0.131, xMax: 1.165, yMin: -0.56, yMax: 20.41, letterX: 903, titleX: 1121, rowY: 628, legX: 1059, txtX: 1152, legY: 1111 }
];

const FONT = '"Liberation Sans", Arial, Helvetica, sans-serif';
const RIDGE_FILL = '#c6007e';
const TEXT_DARK = '#1a1a1a';
const AXIS_TEXT = '#222222';

const grids = [], xAxes = [], yAxes = [], series = [], graphics = [];

layout.forEach(function (L, p) {
  const terms = panelTerms[p];
  const ridges = panelDensity[p];
  const n = terms.length;
  const rows = terms.map(function (_, i) { return n - 1 - i; });

  grids.push({ left: L.left, top: L.top, width: L.width, height: L.height,
    show: true, borderColor: '#5a5a5a', borderWidth: 1, backgroundColor: '#fff' });

  xAxes.push({
    type: 'value', gridIndex: p, min: L.xMin, max: L.xMax,
    axisLine: { show: false, onZero: false },
    splitLine: { show: false },
    axisTick: { show: true, customValues: panelTicks[p], length: 3, lineStyle: { color: '#333' } },
    axisLabel: { customValues: panelTicks[p], formatter: function (v) { return v.toFixed(1); },
      fontFamily: FONT, fontSize: 11, color: AXIS_TEXT, margin: 3 }
  });

  yAxes.push({
    type: 'value', gridIndex: p, min: L.yMin, max: L.yMax,
    axisLine: { show: false, onZero: false },
    splitLine: { show: false },
    axisTick: { show: true, customValues: rows, length: 3, lineStyle: { color: '#333' } },
    axisLabel: { customValues: rows, formatter: function (v) { return terms[n - 1 - Math.round(v)]; },
      fontFamily: FONT, fontSize: 11, lineHeight: 12, color: AXIS_TEXT, margin: 4 }
  });

  // vertical and horizontal panel grid lines
  const gx = panelGridX[p].filter(function (v) { return v > L.xMin && v < L.xMax; });
  series.push({
    type: 'custom', xAxisIndex: p, yAxisIndex: p, silent: true, z: 1,
    data: gx.map(function (v) { return [v, 0]; }),
    renderItem: function (params, api) {
      const v = api.value(0);
      const a = api.coord([v, L.yMin]), b = api.coord([v, L.yMax]);
      const x = Math.round(a[0]) + 0.5;
      return { type: 'line', shape: { x1: x, y1: a[1], x2: x, y2: b[1] },
        style: { stroke: '#ebebeb', lineWidth: 1 } };
    }
  });
  series.push({
    type: 'custom', xAxisIndex: p, yAxisIndex: p, silent: true, z: 1,
    data: rows.map(function (r) { return [L.xMin, r]; }),
    renderItem: function (params, api) {
      const r = api.value(1);
      const a = api.coord([L.xMin, r]), b = api.coord([L.xMax, r]);
      return { type: 'line', shape: { x1: a[0], y1: a[1], x2: b[0], y2: b[1] },
        style: { stroke: '#ebebeb', lineWidth: 1 } };
    }
  });

  // ridges: top row first so that lower ridges overlap the ones above
  series.push({
    type: 'custom', xAxisIndex: p, yAxisIndex: p, silent: true, z: 2,
    data: ridges.map(function (r, i) { return [r[0][0], n - 1 - i]; }),
    renderItem: function (params, api) {
      const i = params.dataIndex;
      const base = api.value(1);
      const pts = ridges[i].map(function (k) { return api.coord([k[0], base + k[1]]); });
      const bound = [pts[0].slice(), pts[0].slice()];
      return {
        type: 'group',
        children: [
          { type: 'polygon', shape: { points: pts, smooth: 0.45, smoothConstraint: bound },
            style: { fill: RIDGE_FILL, stroke: null } },
          { type: 'polyline', shape: { points: pts, smooth: 0.45, smoothConstraint: bound },
            style: { stroke: '#000', lineWidth: 1, fill: null } }
        ]
      };
    }
  });

  // panel letter, title and p.adjust key
  graphics.push({ type: 'text', x: L.letterX, y: L.rowY,
    style: { text: panelLetters[p], font: 'bold 22px ' + FONT, fill: '#000', align: 'center', verticalAlign: 'middle' } });
  graphics.push({ type: 'text', x: L.titleX, y: L.rowY,
    style: { text: cancerNames[p], font: '20px ' + FONT, fill: TEXT_DARK, align: 'center', verticalAlign: 'middle' } });
  graphics.push({ type: 'rect', shape: { x: L.legX, y: L.legY - 6, width: 65, height: 12 },
    style: { fill: '#c73a98', stroke: '#e6a6d0', lineWidth: 1 } });
  graphics.push({ type: 'text', x: L.txtX, y: L.legY,
    style: { text: 'p.adjust = ' + pAdjustValues[p].toFixed(4), font: '13px ' + FONT, fill: TEXT_DARK, align: 'left', verticalAlign: 'middle' } });
});

// outer figure frame, header band and caption
graphics.unshift({ type: 'rect', z: -10, shape: { x: 9.5, y: 8.5, width: 1343, height: 1200 },
  style: { fill: '#fff', stroke: '#a8a8a8', lineWidth: 1.5 } });
graphics.push({ type: 'rect', shape: { x: 97, y: 55, width: 1173, height: 25 },
  style: { fill: '#96cd6c' } });
graphics.push({ type: 'text', x: 684, y: 68,
  style: { text: 'GSEA_GO', font: '19px ' + FONT, fill: '#1a1a1a', align: 'center', verticalAlign: 'middle' } });
graphics.push({ type: 'text', x: 678, y: 1167,
  style: {
    text: '{b|FIGURE 9} {s||} {n|GO annotations of FBXO5 in the indicated six types of tumors using GSEA, including }' +
      '{b|(A)}{n| BLCA, }{b|(B)}{n| BRCA, }{b|(C)}{n| LIHC, }{b|(D)}{n| LUAD, }{b|(E)}{n| OV, and }{b|(F)}{n| STAD.}',
    align: 'center', verticalAlign: 'middle',
    rich: {
      b: { fontFamily: FONT, fontSize: 18, fontWeight: 'bold', fill: '#231f20' },
      s: { fontFamily: FONT, fontSize: 18, fill: '#888' },
      n: { fontFamily: FONT, fontSize: 18, fill: '#231f20' }
    }
  } });

const chart = echarts.init(document.getElementById('chart'), null, { renderer: 'canvas' });
chart.setOption({
  animation: false,
  backgroundColor: '#fff',
  grid: grids,
  xAxis: xAxes,
  yAxis: yAxes,
  series: series,
  graphic: { elements: graphics }
});
</script>
</body>
</html>
